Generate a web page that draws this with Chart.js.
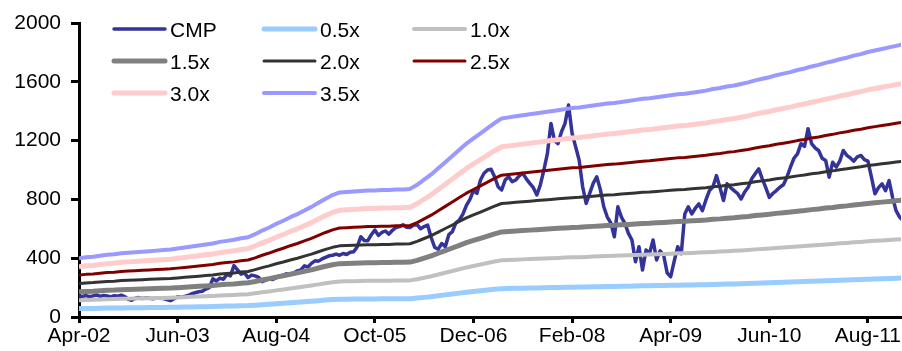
<!DOCTYPE html>
<html>
<head>
<meta charset="utf-8">
<script src="https://cdn.jsdelivr.net/npm/chart.js@4.4.1/dist/chart.umd.min.js"></script>
<style>
  html, body { margin: 0; padding: 0; background: #fff; }
  #wrap { width: 902px; height: 351px; }
</style>
</head>
<body>
<div id="wrap"><canvas id="c" width="902" height="351"></canvas></div>
<script>
// Share price (CMP), two readings per month starting Apr-02
const cmp = [
  143,140, 146,138, 144,150, 140,147, 143,136, 145,141, 148,139, 120,114, 128,132, 126,131,
  128,124, 130,127, 126,118, 111,124, 138,134, 140,146, 158,165, 172,175, 190,200, 260,245,
  265,257, 290,280, 350,320, 291,300, 268,285, 280,270, 240,250, 260,255, 268,280, 285,295,
  291,300, 314,320, 348,340, 365,382, 380,395, 405,416, 420,428, 420,432, 425,440, 444,478,
  546,520, 519,560, 592,555, 575,585, 564,590, 609,615, 628,610, 609,625, 628,600, 615,625,
  541,473, 462,500, 478,560, 580,640, 660,700, 760,800, 860,841, 932,978, 1000,1005, 954,886,
  864,932, 954,920, 932,960, 978,940, 909,880, 830,900, 1000,1113, 1317,1200, 1180,1260, 1317,1442,
  1250,1159, 1068,886, 773,841, 909,954, 870,750, 680,640, 546,750, 680,637, 569,524, 376,478,
  320,456, 433,524, 388,450, 420,300, 274,380, 478,430, 700,750, 701,740, 769,723, 796,860,
  886,962, 880,792, 906,880, 860,840, 803,850, 883,940, 974,1008, 940,880, 814,840, 860,883,
  900,951, 1019,1080, 1110,1179, 1160,1281, 1179,1150, 1133,1080, 1065,951, 1053,1020, 1060,1133, 1100,1082,
  1060,1090, 1099,1070, 1060,951, 838,880, 906,860, 928,814, 723,680, 655
];

// Book value per share, one reading per month starting Apr-02
const bvps = [
  114,116,117,119,121,122,124,125,126,127,
  128,129,130,131,133,135,137,139,141,143,
  146,148,150,153,155,161,168,174,181,187,
  194,200,207,214,222,230,237,242,243,244,
  245,246,246,247,247,248,248,249,257,267,
  277,289,301,313,325,337,347,357,367,377,
  386,388,390,392,394,396,398,400,402,404,
  406,407,409,411,413,415,416,418,420,422,
  424,425,427,429,431,433,434,436,438,440,
  443,445,448,450,453,456,460,463,466,470,
  473,476,480,483,487,490,494,497,501,504,
  508,511,515,518,521,524,527,530
];

// Price-to-book multiples for the band lines
const multiples = [0.5, 1.0, 1.5, 2.0, 2.5, 3.0, 3.5];
const bandNames = ['0.5x', '1.0x', '1.5x', '2.0x', '2.5x', '3.0x', '3.5x'];

// Axis ticks: month offsets from Apr-02 and their labels
const tickMonths = [0, 14, 28, 42, 56, 70, 84, 98, 112];
const tickLabels = ['Apr-02', 'Jun-03', 'Aug-04', 'Oct-05', 'Dec-06', 'Feb-08', 'Apr-09', 'Jun-10', 'Aug-11'];
const lastMonth = 116.7;

const styles = {
  'CMP':  { color: '#333399', width: 3.5 },
  '0.5x': { color: '#99CCFF', width: 5 },
  '1.0x': { color: '#C0C0C0', width: 4 },
  '1.5x': { color: '#808080', width: 5 },
  '2.0x': { color: '#333333', width: 3 },
  '2.5x': { color: '#800000', width: 3 },
  '3.0x': { color: '#FFCCCC', width: 5 },
  '3.5x': { color: '#9999FF', width: 4 }
};

const legendOrder = ['CMP', '0.5x', '1.0x', '1.5x', '2.0x', '2.5x', '3.0x', '3.5x'];

const datasets = [];
datasets.push({
  label: 'CMP',
  data: cmp.map((v, i) => ({ x: i / 2, y: v })),
  borderColor: styles['CMP'].color,
  borderWidth: styles['CMP'].width,
  order: 1
});
multiples.forEach((m, k) => {
  const name = bandNames[k];
  datasets.push({
    label: name,
    data: bvps.map((b, i) => ({ x: i, y: b * m })),
    borderColor: styles[name].color,
    borderWidth: styles[name].width,
    order: 0
  });
});

// Three-column legend laid over the top-left of the plot
const gridLegend = {
  id: 'gridLegend',
  afterDatasetsDraw(chart) {
    const ctx = chart.ctx;
    ctx.save();
    ctx.font = '21px "Liberation Sans", Arial, sans-serif';
    ctx.textBaseline = 'middle';
    ctx.textAlign = 'left';
    ctx.fillStyle = '#000';
    legendOrder.forEach((name, i) => {
      const col = i % 3, row = Math.floor(i / 3);
      const x = 114 + col * 150;
      const y = 29 + row * 32;
      ctx.strokeStyle = styles[name].color;
      ctx.lineWidth = styles[name].width;
      ctx.lineCap = 'round';
      ctx.beginPath();
      ctx.moveTo(x, y);
      ctx.lineTo(x + 51, y);
      ctx.stroke();
      ctx.fillText(name, x + 56, y + 2);
    });
    ctx.restore();
  }
};

Chart.defaults.font.family = '"Liberation Sans", Arial, sans-serif';
Chart.defaults.font.size = 21;
Chart.defaults.color = '#000';

new Chart(document.getElementById('c'), {
  type: 'line',
  data: { datasets },
  options: {
    responsive: false,
    animation: false,
    devicePixelRatio: 1,
    layout: { padding: { top: 23, left: 0, right: 0, bottom: 0 } },
    elements: {
      point: { radius: 0 },
      line: { tension: 0, borderJoinStyle: 'round' }
    },
    plugins: {
      legend: { display: false },
      tooltip: { enabled: false }
    },
    scales: {
      x: {
        type: 'linear',
        min: 0,
        max: lastMonth,
        afterBuildTicks: s => { s.ticks = tickMonths.map(v => ({ value: v })); },
        afterFit: s => { s.height = 34; },
        ticks: {
          autoSkip: false,
          maxRotation: 0,
          padding: 1,
          color: '#000',
          font: { size: 21 },
          callback: v => tickLabels[tickMonths.indexOf(v)]
        },
        grid: {
          drawOnChartArea: false,
          drawTicks: true,
          tickLength: 6,
          tickColor: '#000',
          tickWidth: 3
        },
        border: { display: true, color: '#000', width: 3 }
      },
      y: {
        min: 0,
        max: 2000,
        afterFit: s => { s.width = 79; },
        ticks: {
          stepSize: 400,
          padding: 10,
          color: '#000',
          font: { size: 21 },
          callback: v => String(v)
        },
        grid: {
          drawOnChartArea: false,
          drawTicks: true,
          tickLength: 8,
          tickColor: '#000',
          tickWidth: 3
        },
        border: { display: true, color: '#000', width: 3 }
      }
    }
  },
  plugins: [gridLegend]
});
</script>
</body>
</html>
